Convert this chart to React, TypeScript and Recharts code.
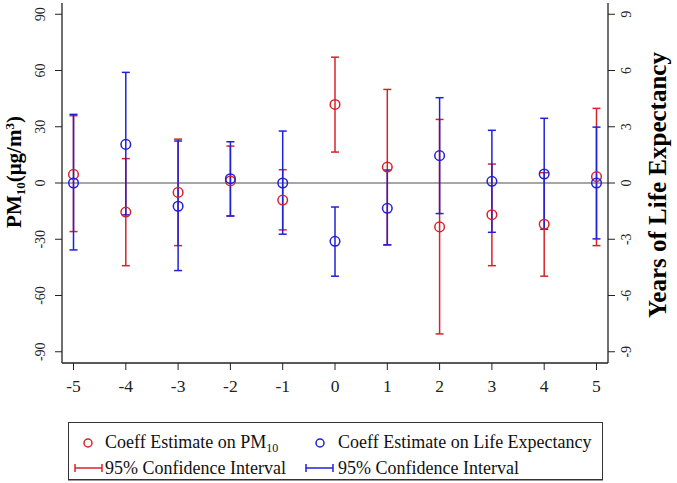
import React from "react";
import {
  ComposedChart,
  Scatter,
  ErrorBar,
  XAxis,
  YAxis,
  ReferenceLine,
} from "recharts";

const lags = [-5, -4, -3, -2, -1, 0, 1, 2, 3, 4, 5];

// coefficient estimates on PM10 (left axis)
const pmEst = [4.6, -15.5, -5.0, 1.1, -9.1, 41.9, 8.5, -23.4, -16.9, -22.0, 3.4];
const pmLow = [-25.9, -44.1, -33.4, -17.6, -25.0, 16.5, -33.0, -80.5, -44.1, -49.7, -33.4];
const pmHigh = [35.9, 13.0, 23.4, 19.7, 7.1, 67.1, 49.9, 33.9, 10.1, 5.5, 39.8];

// coefficient estimates on life expectancy (right axis)
const leEst = [0, 2.06, -1.24, 0.23, 0, -3.11, -1.35, 1.46, 0.09, 0.48, 0];
const leLow = [-3.57, -1.7, -4.67, -1.76, -2.73, -4.97, -3.3, -1.63, -2.63, -2.47, -2.98];
const leHigh = [3.66, 5.9, 2.24, 2.2, 2.77, -1.28, 0.69, 4.55, 2.81, 3.45, 2.98];

const leftTicks = [-90, -60, -30, 0, 30, 60, 90];
const rightTicks = [-9, -6, -3, 0, 3, 6, 9];

const rows = lags.map((lag, i) => ({
  lag,
  pm: pmEst[i],
  pmErr: [pmEst[i] - pmLow[i], pmHigh[i] - pmEst[i]],
  le: leEst[i],
  leErr: [leEst[i] - leLow[i], leHigh[i] - leEst[i]],
}));

const SERIF = '"Liberation Serif", "Times New Roman", serif';
const RED = "#d8222a";
const BLUE = "#2020d8";
const INK = "#222";

const ring = (color) => (props) =>
  props.cx == null ? null : (
    <circle cx={props.cx} cy={props.cy} r={4.8} fill="none" stroke={color} strokeWidth={1.5} />
  );

const YTick = ({ x, y, payload }) => (
  <text
    x={x}
    y={y}
    transform={`rotate(-90 ${x} ${y})`}
    textAnchor="middle"
    fontSize={14}
    style={{ fontFamily: SERIF }}
    fill={INK}
  >
    {payload.value}
  </text>
);

const XTick = ({ x, y, payload }) => (
  <text x={x} y={y + 20} textAnchor="middle" fontSize={17.5} style={{ fontFamily: SERIF }} fill={INK}>
    {payload.value}
  </text>
);

const Titles = () => (
  <g style={{ fontFamily: SERIF }} fontWeight="bold" fill="#000">
    <text x={21} y={172} transform="rotate(-90 21 172)" textAnchor="middle" fontSize={21}>
      PM
      <tspan fontSize={13} dy={4}>10</tspan>
      <tspan dy={-4}>(μg/m</tspan>
      <tspan fontSize={13} dy={-7}>3</tspan>
      <tspan dy={7}>)</tspan>
    </text>
    <text x={666} y={185} transform="rotate(-90 666 185)" textAnchor="middle" fontSize={25}>
      Years of Life Expectancy
    </text>
  </g>
);

const CiGlyph = ({ x, y, color }) => (
  <g stroke={color} strokeWidth={1.5}>
    <line x1={x} y1={y} x2={x + 27} y2={y} />
    <line x1={x} y1={y - 4} x2={x} y2={y + 4} />
    <line x1={x + 27} y1={y - 4} x2={x + 27} y2={y + 4} />
  </g>
);

const LegendBox = () => (
  <div
    style={{
      position: "absolute",
      left: 68,
      top: 422,
      width: 535,
      height: 58,
      boxSizing: "border-box",
      border: "1.3px solid #333",
      boxShadow: "0 1px 0 #999",
    }}
  >
    <svg width={535} height={58} style={{ position: "absolute", left: -1, top: -1 }}>
      <g style={{ fontFamily: SERIF }} fontSize={18} fill="#111">
        <circle cx={20} cy={21} r={4} fill="none" stroke={RED} strokeWidth={1.5} />
        <text x={37} y={26}>
          Coeff Estimate on PM
          <tspan fontSize={12} dy={4}>10</tspan>
        </text>
        <CiGlyph x={7} y={46} color={RED} />
        <text x={37} y={52}>95% Confidence Interval</text>

        <circle cx={252} cy={21} r={4} fill="none" stroke={BLUE} strokeWidth={1.5} />
        <text x={270} y={26}>Coeff Estimate on Life Expectancy</text>
        <CiGlyph x={238} y={46} color={BLUE} />
        <text x={270} y={52}>95% Confidence Interval</text>
      </g>
    </svg>
  </div>
);

export default function App() {
  return (
    <div style={{ position: "absolute", left: 0, top: 0, width: 677, height: 483, background: "#fff" }}>
      <ComposedChart
        width={677}
        height={410}
        data={rows}
        margin={{ top: 3, right: 0, bottom: 7, left: 0 }}
      >
        <XAxis
          dataKey="lag"
          type="number"
          domain={[-5.22, 5.22]}
          ticks={lags}
          allowDataOverflow
          height={40}
          tickSize={7}
          tickLine={{ stroke: INK }}
          axisLine={{ stroke: INK, strokeWidth: 1.3 }}
          tick={<XTick />}
          interval={0}
        />
        <XAxis
          xAxisId="top"
          orientation="top"
          type="number"
          domain={[-5.22, 5.22]}
          allowDataOverflow
          height={0}
          tick={false}
          tickLine={false}
          axisLine={{ stroke: INK, strokeWidth: 1.3 }}
        />
        <YAxis
          yAxisId="left"
          type="number"
          domain={[-96, 96]}
          ticks={leftTicks}
          allowDataOverflow
          width={62}
          tickSize={7}
          tickMargin={10}
          tickLine={{ stroke: INK }}
          axisLine={{ stroke: INK, strokeWidth: 1.3 }}
          tick={<YTick />}
          interval={0}
        />
        <YAxis
          yAxisId="right"
          orientation="right"
          type="number"
          domain={[-9.6, 9.6]}
          ticks={rightTicks}
          allowDataOverflow
          width={69}
          tickSize={7}
          tickMargin={16}
          tickLine={{ stroke: INK }}
          axisLine={{ stroke: INK, strokeWidth: 1.3 }}
          tick={<YTick />}
          interval={0}
        />
        <ReferenceLine yAxisId="left" y={0} stroke="#8a8a8a" strokeWidth={1.6} />
        <Scatter yAxisId="left" dataKey="pm" shape={ring(RED)} isAnimationActive={false}>
          <ErrorBar dataKey="pmErr" direction="y" width={4} stroke={RED} strokeWidth={1.5} />
        </Scatter>
        <Scatter yAxisId="right" dataKey="le" shape={ring(BLUE)} isAnimationActive={false}>
          <ErrorBar dataKey="leErr" direction="y" width={4} stroke={BLUE} strokeWidth={1.5} />
        </Scatter>
        <Titles />
      </ComposedChart>
      <LegendBox />
    </div>
  );
}
